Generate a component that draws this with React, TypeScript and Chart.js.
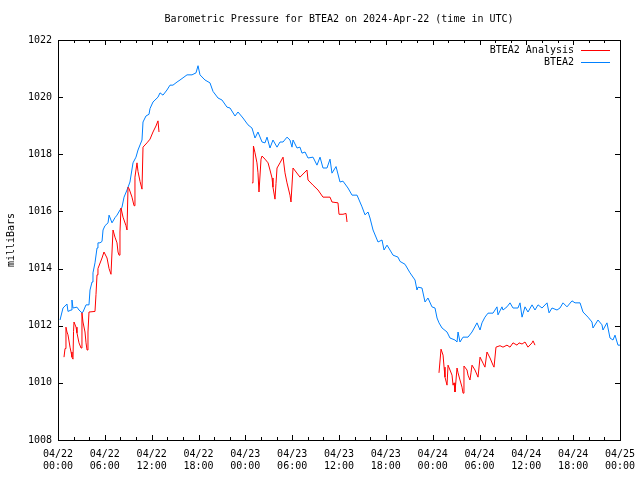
import React, { useEffect, useRef } from 'react';
import { Chart, registerables } from 'chart.js';

Chart.register(...registerables);

// time axis: hours since 2024-04-22 00:00 UTC
const blueHours = [
  0.26, 0.64, 1.15, 1.28, 1.67, 1.79, 1.92, 2.43, 2.69, 3.07, 3.2, 3.59, 3.97, 4.1, 4.36, 4.48, 4.74, 5.0, 5.12, 5.38,
  5.64, 5.77, 6.02, 6.41, 6.54, 6.92, 7.3, 7.56, 7.94, 8.2, 8.46, 8.84, 9.22, 9.61, 9.99, 10.25, 10.76, 10.89, 11.27, 11.66,
  11.79, 12.17, 12.81, 13.07, 13.45, 13.96, 14.35, 14.73, 15.25, 15.63, 16.53, 17.17, 17.68, 17.94, 18.19, 18.83, 19.47, 19.86, 20.5, 21.01,
  21.65, 22.04, 22.68, 23.06, 23.7, 24.34, 24.85, 25.24, 25.62, 26.14, 26.52, 26.78, 27.16, 27.54, 28.06, 28.44, 28.83, 29.34, 29.72, 29.98,
  30.11, 30.62, 31.0, 31.26, 31.65, 32.03, 32.67, 33.18, 33.57, 33.95, 34.46, 34.85, 35.1, 35.62, 36.13, 36.51, 37.15, 37.67, 38.31, 38.95,
  39.33, 39.72, 39.97, 40.36, 41.0, 41.51, 41.77, 42.15, 42.53, 42.92, 43.56, 43.82, 44.46, 45.1, 45.74, 45.99, 46.12, 46.63, 47.02, 47.4,
  47.91, 48.3, 48.56, 48.81, 49.2, 49.84, 50.22, 50.86, 51.12, 51.25, 51.5, 51.89, 52.53, 53.04, 53.68, 54.07, 54.32, 54.7, 55.09, 55.73,
  56.24, 56.37, 56.88, 57.01, 57.52, 57.91, 58.29, 58.93, 59.19, 59.45, 59.83, 60.21, 60.73, 61.11, 61.5, 62.01, 62.65, 62.91, 63.29, 63.93,
  64.31, 64.7, 65.21, 65.85, 66.24, 66.88, 67.26, 67.9, 68.41, 68.54, 69.18, 69.69, 69.82, 70.33, 70.72, 71.1, 71.36, 71.74, 72.0,
];
const blueValues = [
  1012.2, 1012.62, 1012.76, 1012.5, 1012.55, 1012.9, 1012.62, 1012.65, 1012.55, 1012.45, 1012.48, 1012.73, 1012.73, 1013.25, 1013.53, 1013.85, 1014.2, 1014.72, 1014.9, 1014.9,
  1014.95, 1015.35, 1015.5, 1015.6, 1015.87, 1015.6, 1015.78, 1015.87, 1016.05, 1016.15, 1016.5, 1016.75, 1017.03, 1017.7, 1017.9, 1018.15, 1018.5, 1019.13, 1019.34, 1019.4,
  1019.6, 1019.83, 1020.0, 1020.15, 1020.07, 1020.25, 1020.42, 1020.42, 1020.53, 1020.6, 1020.78, 1020.78, 1020.85, 1021.1, 1020.78, 1020.6, 1020.5, 1020.2, 1019.97, 1019.9,
  1019.65, 1019.62, 1019.34, 1019.48, 1019.27, 1019.03, 1018.92, 1018.57, 1018.78, 1018.43, 1018.4, 1018.6, 1018.22, 1018.5, 1018.25, 1018.43, 1018.43, 1018.6, 1018.5, 1018.25,
  1018.5, 1018.22, 1018.25, 1018.04, 1018.08, 1017.87, 1017.9, 1017.62, 1017.9, 1017.52, 1017.52, 1017.83, 1017.34, 1017.57, 1017.03, 1017.06, 1016.82, 1016.57, 1016.57, 1016.16,
  1015.88, 1015.98, 1015.77, 1015.35, 1014.93, 1015.0, 1014.65, 1014.82, 1014.65, 1014.47, 1014.4, 1014.25, 1014.15, 1013.85, 1013.6, 1013.25, 1013.35, 1013.32, 1012.83, 1012.97,
  1012.66, 1012.62, 1012.27, 1012.1, 1011.92, 1011.78, 1011.57, 1011.5, 1011.43, 1011.78, 1011.43, 1011.6, 1011.6, 1011.78, 1012.1, 1011.85, 1012.1, 1012.3, 1012.44, 1012.44,
  1012.66, 1012.38, 1012.66, 1012.55, 1012.66, 1012.8, 1012.62, 1012.62, 1012.8, 1012.3, 1012.66, 1012.48, 1012.73, 1012.55, 1012.73, 1012.62, 1012.8, 1012.45, 1012.62, 1012.55,
  1012.62, 1012.8, 1012.66, 1012.87, 1012.8, 1012.8, 1012.48, 1012.3, 1012.13, 1011.92, 1012.2, 1012.03, 1011.85, 1012.1, 1011.57, 1011.5, 1011.67, 1011.32, 1011.32,
];

// analysis series: three runs separated by gaps (null)
const redHours = [
  0.77, 0.9, 1.02, 1.15, 1.28, 1.54, 1.67, 1.79, 1.92, 1.99, 2.05, 2.31, 2.43, 2.69, 2.95, 3.07, 3.2, 3.46, 3.59, 3.72,
  3.84, 3.97, 4.74, 4.87, 5.0, 5.12, 5.64, 5.89, 6.28, 6.54, 6.79, 6.92, 7.05, 7.3, 7.56, 7.69, 7.82, 7.94, 8.07, 8.33,
  8.71, 8.84, 8.97, 9.1, 9.48, 9.74, 9.86, 10.12, 10.25, 10.51, 10.76, 10.89, 11.4, 11.79, 12.17, 12.55, 12.81, 12.94,
  18.0,
  24.85, 24.98, 25.04, 25.24, 25.49, 25.62, 25.75, 26.01, 26.14, 26.52, 26.91, 27.16, 27.42, 27.54, 27.8, 27.93, 28.06, 28.44, 28.83, 29.08,
  29.34, 29.72, 29.85, 30.11, 31.0, 31.9, 32.03, 32.67, 33.31, 33.95, 34.85, 35.1, 35.87, 36.0, 36.51, 36.9, 37.03,
  42.0,
  48.81, 49.07, 49.33, 49.46, 49.58, 49.84, 49.97, 50.22, 50.48, 50.61, 50.74, 50.86, 51.12, 51.25, 51.5, 51.76, 51.89, 52.01, 52.4, 52.53,
  52.78, 52.91, 53.04, 53.42, 53.81, 54.07, 54.45, 54.7, 54.96, 55.35, 55.73, 55.86, 56.11, 56.63, 57.01, 57.52, 57.91, 58.29, 58.81, 59.06,
  59.45, 59.83, 60.21, 60.73, 60.86, 61.11,
];
const redValues = [
  1010.9, 1011.2, 1011.95, 1011.78, 1011.68, 1011.25, 1011.08, 1010.9, 1010.83, 1011.8, 1012.13, 1011.95, 1011.75, 1011.4, 1011.22, 1012.45, 1012.13, 1011.78, 1011.4, 1011.15,
  1011.78, 1012.48, 1012.5, 1013.1, 1013.78, 1014.0, 1014.37, 1014.58, 1014.37, 1014.0, 1013.8, 1014.58, 1015.35, 1015.1, 1014.9, 1014.58, 1014.47, 1015.28, 1016.12, 1015.8,
  1015.5, 1015.35, 1016.85, 1016.8, 1016.5, 1016.2, 1017.2, 1017.7, 1017.4, 1017.05, 1016.78, 1018.25, 1018.4, 1018.53, 1018.78, 1018.99, 1019.17, 1018.78,
  null,
  1017.0, 1017.0, 1018.29, 1018.05, 1017.7, 1017.35, 1016.68, 1017.83, 1017.94, 1017.83, 1017.7, 1017.45, 1017.17, 1016.85, 1016.43, 1016.98, 1017.52, 1017.7, 1017.9, 1017.35,
  1017.0, 1016.57, 1016.33, 1017.52, 1017.2, 1017.45, 1017.1, 1016.92, 1016.75, 1016.5, 1016.5, 1016.33, 1016.3, 1015.9, 1015.9, 1015.93, 1015.63,
  null,
  1010.35, 1011.18, 1010.97, 1010.55, 1010.2, 1009.92, 1010.62, 1010.45, 1010.27, 1009.92, 1010.0, 1009.68, 1010.52, 1010.35, 1010.1, 1009.85, 1009.64, 1010.59, 1010.45, 1010.27,
  1010.1, 1010.35, 1010.62, 1010.45, 1010.2, 1010.9, 1010.69, 1010.55, 1011.08, 1010.87, 1010.62, 1010.55, 1011.25, 1011.3, 1011.25, 1011.32, 1011.25, 1011.4, 1011.32, 1011.4,
  1011.36, 1011.43, 1011.25, 1011.4, 1011.47, 1011.32,
];

const xTickDates = ['04/22', '04/22', '04/22', '04/22', '04/23', '04/23', '04/23', '04/23', '04/24', '04/24', '04/24', '04/24', '04/25'];
const xTickTimes = ['00:00', '06:00', '12:00', '18:00', '00:00', '06:00', '12:00', '18:00', '00:00', '06:00', '12:00', '18:00', '00:00'];

const titleText = 'Barometric Pressure for BTEA2 on 2024-Apr-22 (time in UTC)';
const yAxisTitle = 'milliBars';
const seriesNames = ['BTEA2 Analysis', 'BTEA2'];
const seriesColors = ['#ff0000', '#0080ff'];

const FONT = '"DejaVu Sans Mono", "Liberation Mono", monospace';

const framePlugin = {
  id: 'gnuplotFrame',
  afterDraw(chart: any) {
    const { ctx, chartArea } = chart;
    const { left, top, right, bottom } = chartArea;
    const xs = chart.scales.x;
    const ys = chart.scales.y;
    ctx.save();
    ctx.strokeStyle = '#000';
    ctx.lineWidth = 1;
    ctx.strokeRect(Math.round(left) + 0.5, Math.round(top) + 0.5, Math.round(right - left), Math.round(bottom - top));
    ctx.beginPath();
    for (let h = xs.min; h <= xs.max; h += 2) {
      const px = Math.round(xs.getPixelForValue(h)) + 0.5;
      const len = h % 6 === 0 ? 5 : 3;
      ctx.moveTo(px, bottom);
      ctx.lineTo(px, bottom - len);
      ctx.moveTo(px, top);
      ctx.lineTo(px, top + len);
    }
    for (let v = ys.min; v <= ys.max; v += 2) {
      const py = Math.round(ys.getPixelForValue(v)) + 0.5;
      ctx.moveTo(left, py);
      ctx.lineTo(left + 5, py);
      ctx.moveTo(right, py);
      ctx.lineTo(right - 5, py);
    }
    ctx.stroke();

    ctx.font = `10px ${FONT}`;
    ctx.fillStyle = '#000';
    ctx.textBaseline = 'middle';

    // title centred over the plot area, as gnuplot does
    ctx.textAlign = 'center';
    ctx.fillText(titleText, (left + right) / 2, top - 21);

    // legend inside the plot, gnuplot style
    ctx.textAlign = 'right';
    seriesNames.forEach((name, i) => {
      const yy = top + 10 + i * 12;
      ctx.fillText(name, right - 46, yy);
      ctx.strokeStyle = seriesColors[i];
      ctx.beginPath();
      ctx.moveTo(right - 39, yy + 0.5);
      ctx.lineTo(right - 10, yy + 0.5);
      ctx.stroke();
    });
    ctx.restore();
  },
};

export default function App() {
  const ref = useRef<HTMLCanvasElement | null>(null);

  useEffect(() => {
    if (!ref.current) return;
    const chart = new Chart(ref.current, {
      type: 'line',
      data: {
        datasets: [
          {
            label: seriesNames[0],
            data: redHours.map((h, i) => ({ x: h, y: redValues[i] })),
            borderColor: seriesColors[0],
            borderWidth: 1,
            pointRadius: 0,
            spanGaps: false,
            fill: false,
            tension: 0,
          },
          {
            label: seriesNames[1],
            data: blueHours.map((h, i) => ({ x: h, y: blueValues[i] })),
            borderColor: seriesColors[1],
            borderWidth: 1,
            pointRadius: 0,
            fill: false,
            tension: 0,
          },
        ],
      },
      options: {
        animation: false,
        responsive: false,
        devicePixelRatio: 1,
        layout: { padding: { left: 0, right: 20, top: 40, bottom: 0 } },
        plugins: {
          legend: { display: false },
          tooltip: { enabled: false },
          title: { display: false },
        },
        scales: {
          x: {
            type: 'linear',
            min: 0,
            max: 72,
            grid: { display: false, drawTicks: false },
            border: { display: false },
            ticks: {
              stepSize: 6,
              autoSkip: false,
              maxRotation: 0,
              padding: 8,
              color: '#000',
              font: { family: FONT, size: 10 },
              callback: (v: any) => {
                const i = Math.round(Number(v) / 6);
                return [xTickDates[i], xTickTimes[i]];
              },
            },
            afterFit: (s: any) => {
              s.height = 40;
              s.paddingLeft = 0;
              s.paddingRight = 0;
            },
          },
          y: {
            type: 'linear',
            min: 1008,
            max: 1022,
            grid: { display: false, drawTicks: false },
            border: { display: false },
            ticks: {
              stepSize: 2,
              padding: 6,
              color: '#000',
              font: { family: FONT, size: 10 },
              callback: (v: any) => String(v),
            },
            title: {
              display: true,
              text: yAxisTitle,
              color: '#000',
              font: { family: FONT, size: 10 },
              padding: { top: 5, bottom: 0 },
            },
            afterFit: (s: any) => {
              s.width = 58;
              s.paddingTop = 0;
              s.paddingBottom = 0;
            },
          },
        },
      },
      plugins: [framePlugin],
    } as any);
    return () => chart.destroy();
  }, []);

  return (
    <div style={{ position: 'absolute', left: 0, top: 0, width: 640, height: 480, background: '#fff' }}>
      <canvas ref={ref} width={640} height={480} />
    </div>
  );
}
